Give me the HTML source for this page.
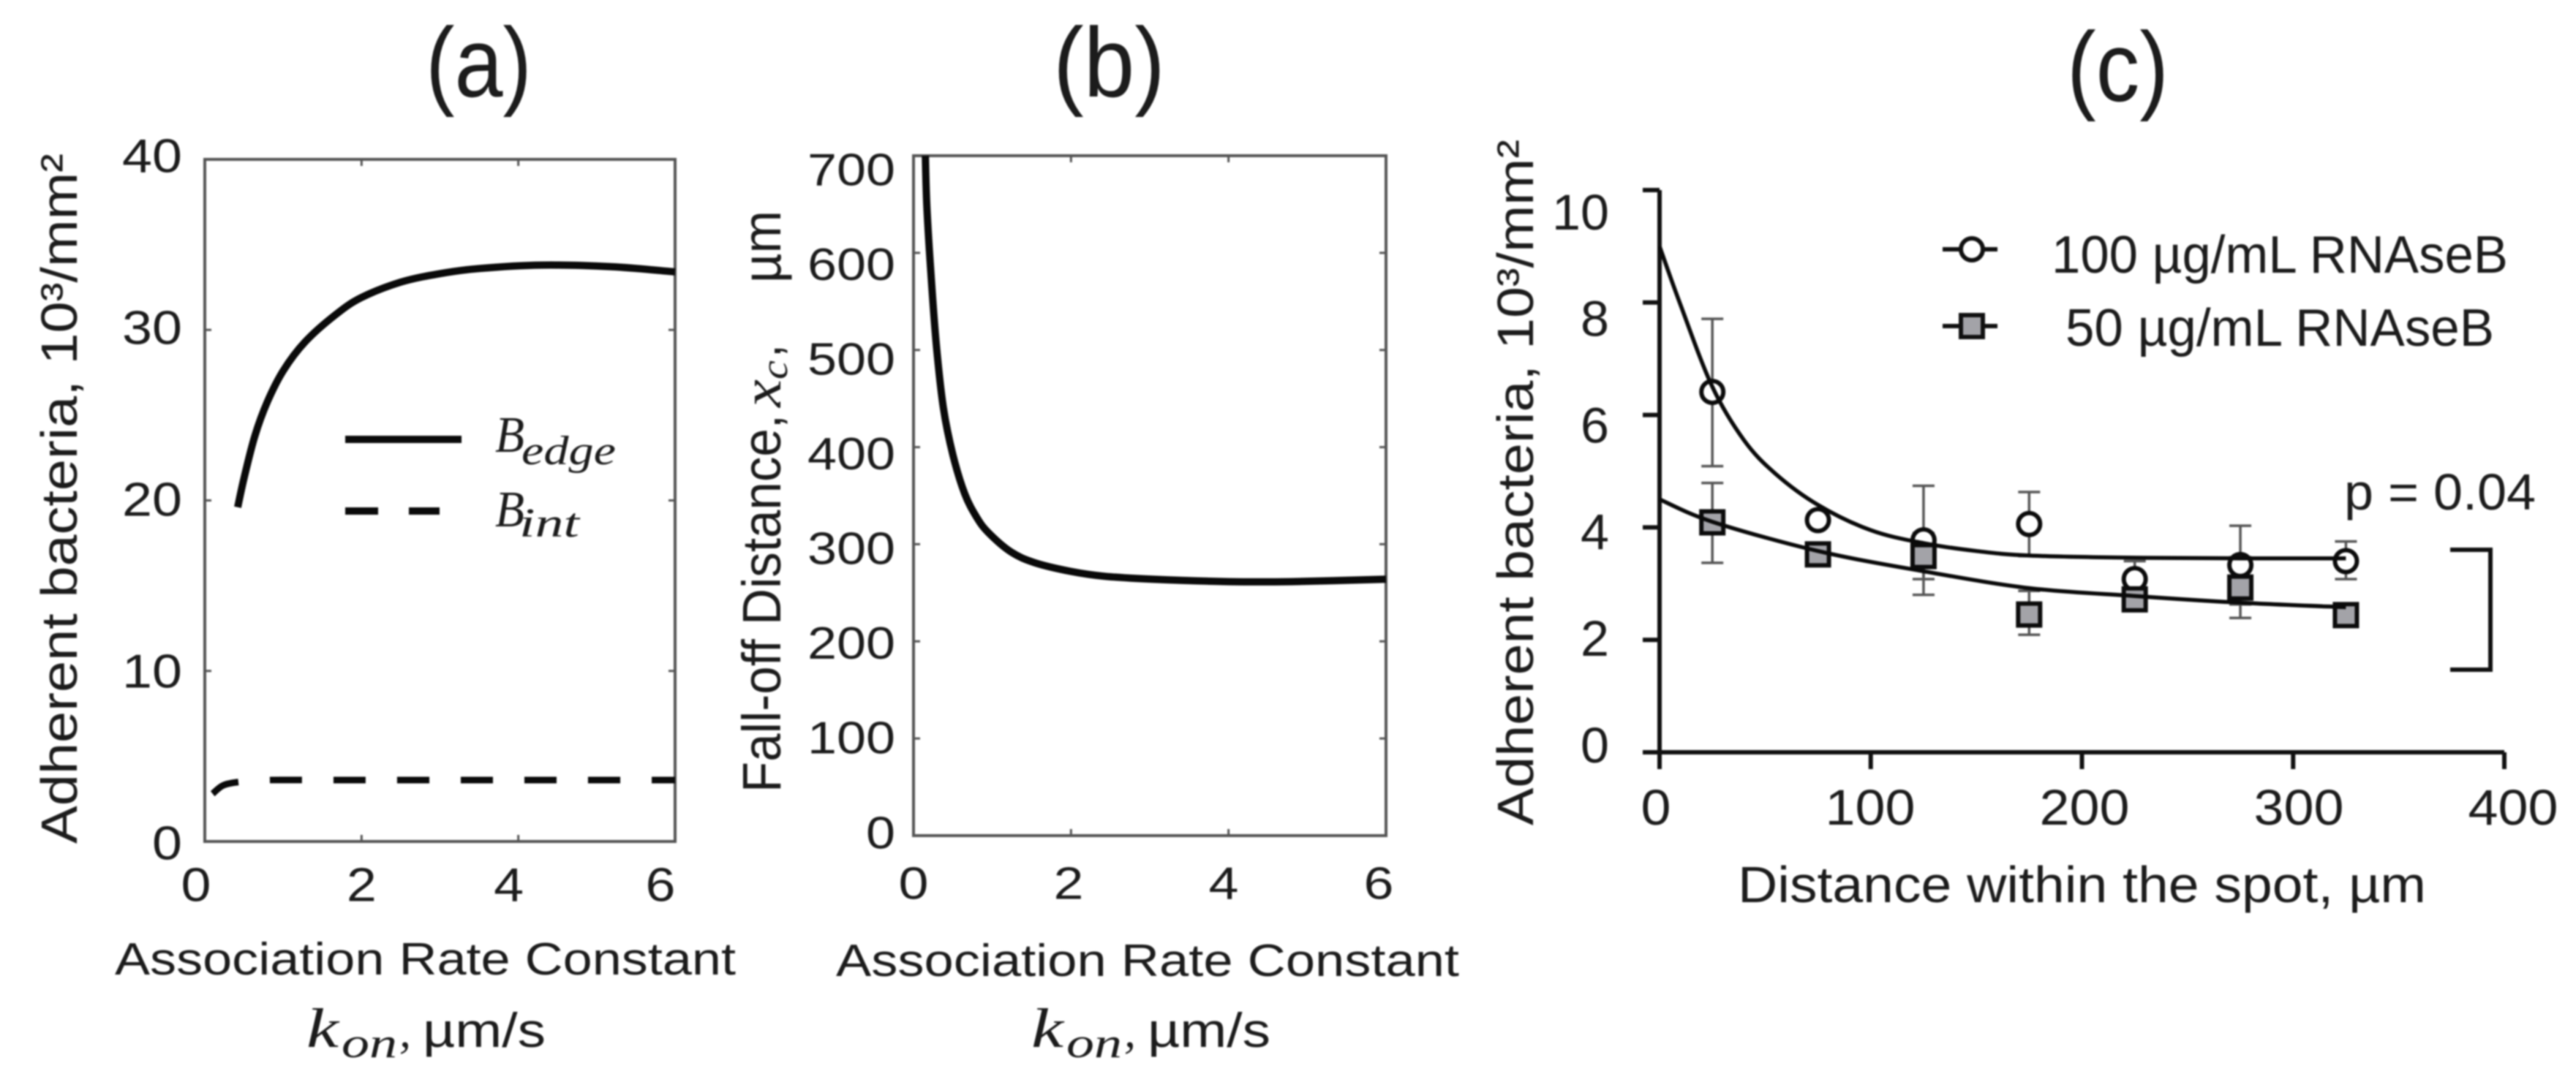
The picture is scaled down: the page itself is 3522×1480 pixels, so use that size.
<!DOCTYPE html>
<html lang="en">
<head>
<meta charset="utf-8">
<title>Adherent bacteria charts</title>
<style>
html,body{margin:0;padding:0;background:#fff;width:3522px;height:1480px;overflow:hidden}
svg{display:block;filter:blur(1px)}
text{font-family:"Liberation Sans",sans-serif;fill:#1c1c1c}
.serif{font-family:"Liberation Serif",serif;font-style:italic}
</style>
</head>
<body>
<svg id="figure" xmlns="http://www.w3.org/2000/svg" width="3522" height="1480" viewBox="0 0 3522 1480">
  <text x="582" y="132" font-size="135" textLength="145" lengthAdjust="spacingAndGlyphs">(a)</text>
  <text x="1440" y="132" font-size="135" textLength="153" lengthAdjust="spacingAndGlyphs">(b)</text>
  <text x="2826" y="138" font-size="135" textLength="139" lengthAdjust="spacingAndGlyphs">(c)</text>

  <text transform="translate(105,1154) rotate(-90)" font-size="70" textLength="944" lengthAdjust="spacingAndGlyphs">Adherent  bacteria, 10³/mm²</text>
  <text x="157" y="1333" font-size="62" textLength="849" lengthAdjust="spacingAndGlyphs">Association Rate Constant</text>
  <g>
    <text class="serif" x="419" y="1432" font-size="76" textLength="44" lengthAdjust="spacingAndGlyphs">k</text>
    <text class="serif" x="467" y="1446" font-size="58" textLength="76" lengthAdjust="spacingAndGlyphs">on</text>
    <text class="serif" x="546" y="1432" font-size="64">,</text>
    <text x="578" y="1432" font-size="66" textLength="168" lengthAdjust="spacingAndGlyphs">µm/s</text>
  </g>
  <g>
    <text class="serif" x="677" y="618" font-size="70" textLength="40" lengthAdjust="spacingAndGlyphs">B</text>
    <text class="serif" x="713" y="635" font-size="56" textLength="129" lengthAdjust="spacingAndGlyphs">edge</text>
  </g>
  <g>
    <text class="serif" x="677" y="720" font-size="70" textLength="40" lengthAdjust="spacingAndGlyphs">B</text>
    <text class="serif" x="710" y="734" font-size="56" textLength="82" lengthAdjust="spacingAndGlyphs">int</text>
  </g>

  <g>
    <text transform="translate(1067,1084) rotate(-90)" font-size="74" textLength="517" lengthAdjust="spacingAndGlyphs">Fall-off Distance,</text>
    <text class="serif" transform="translate(1067,557) rotate(-90)" font-size="76" textLength="38" lengthAdjust="spacingAndGlyphs">x</text>
    <text class="serif" transform="translate(1076,519) rotate(-90)" font-size="52" textLength="26" lengthAdjust="spacingAndGlyphs">c</text>
    <text transform="translate(1067,489) rotate(-90)" font-size="74" textLength="18" lengthAdjust="spacingAndGlyphs">,</text>
    <text transform="translate(1067,387) rotate(-90)" font-size="74" textLength="99" lengthAdjust="spacingAndGlyphs">µm</text>
  </g>
  <text x="1143" y="1335" font-size="62" textLength="852" lengthAdjust="spacingAndGlyphs">Association Rate Constant</text>
  <g>
    <text class="serif" x="1410" y="1432" font-size="76" textLength="44" lengthAdjust="spacingAndGlyphs">k</text>
    <text class="serif" x="1458" y="1446" font-size="58" textLength="76" lengthAdjust="spacingAndGlyphs">on</text>
    <text class="serif" x="1537" y="1432" font-size="64">,</text>
    <text x="1569" y="1432" font-size="66" textLength="168" lengthAdjust="spacingAndGlyphs">µm/s</text>
  </g>

  <text transform="translate(2096,1129) rotate(-90)" font-size="70" textLength="938" lengthAdjust="spacingAndGlyphs">Adherent  bacteria, 10³/mm²</text>
  <text x="2376" y="1234" font-size="70" textLength="941" lengthAdjust="spacingAndGlyphs">Distance within the spot, µm</text>
  <text x="2805" y="373" font-size="72" textLength="624" lengthAdjust="spacingAndGlyphs">100 µg/mL RNAseB</text>
  <text x="2824" y="473" font-size="72" textLength="586" lengthAdjust="spacingAndGlyphs">50 µg/mL RNAseB</text>
  <text x="3205" y="697" font-size="70" textLength="262" lengthAdjust="spacingAndGlyphs">p = 0.04</text>
  <path d="M3350 752H3405V916H3350" fill="none" stroke="#111" stroke-width="6"/>
</svg>
<script>
// Panel (a)
const konEdge = [0.42,0.5,0.64,0.8,1,1.28,1.67,2,2.5,3,3.5,4.3,5.2,6];
const bEdge = [19.6,21.3,23.8,25.8,27.6,29.3,30.9,31.9,32.8,33.3,33.6,33.8,33.7,33.4];
const konInt = [0.1,0.24,0.46,0.8,1.5,3,4.5,6];
const bInt = [2.8,3.3,3.5,3.6,3.6,3.6,3.6,3.6];
const ticksAY = [0,10,20,30,40];
const ticksX = [0,2,4,6];
const labelsAY = ['0','10','20','30','40'];
const labelsX = ['0','2','4','6'];
// Panel (b)
const konFall = [0.15,0.17,0.22,0.29,0.38,0.5,0.65,0.8,0.95,1.24,1.54,2,2.43,3.03,4,4.8,6];
const xcFall = [700,647,580,505,440,392,352,328,312,292,281,272,267,264,261.5,261.5,264];
const ticksBY = [0,100,200,300,400,500,600,700];
const labelsBY = ['0','100','200','300','400','500','600','700'];
// Panel (c)
const spotDist = [25,75,125,175,225,275,325];
const mean100 = [6.41,4.13,3.77,4.06,3.08,3.33,3.4];
const errHi100 = [7.71,4.13,4.74,4.63,3.4,4.03,3.75];
const errLo100 = [5.09,4.13,2.8,3.49,2.76,2.63,3.08];
const mean50 = [4.09,3.52,3.49,2.45,2.72,2.93,2.44];
const errHi50 = [4.79,3.52,3.9,2.87,2.85,3.47,2.44];
const errLo50 = [3.37,3.52,3.08,2.09,2.6,2.39,2.44];
const fitX100 = [0,10,25,40,55,75,100,125,150,175,225,275,325];
const fitY100 = [9,7.95,6.5,5.55,4.95,4.4,3.95,3.72,3.58,3.5,3.46,3.45,3.45];
const fitX50 = [0,25,75,125,175,225,275,325];
const fitY50 = [4.5,4.1,3.58,3.22,2.92,2.78,2.66,2.58];
const ticksCY = [0,2,4,6,8,10];
const ticksCX = [0,100,200,300,400];
const labelsCY = ['0','2','4','6','8','10'];
const labelsCX = ['0','100','200','300','400'];

const svg = document.getElementById('figure');
const NS = 'http://www.w3.org/2000/svg';
function mk(tag, attrs, parent){
  const el = document.createElementNS(NS, tag);
  for (const k in attrs) el.setAttribute(k, attrs[k]);
  (parent || svg).appendChild(el);
  return el;
}
function linear(d0,d1,r0,r1){ return v => r0 + (v-d0)*(r1-r0)/(d1-d0); }
function smooth(xs, ys, fx, fy){
  const p = xs.map((x,i)=>[fx(x),fy(ys[i])]);
  let d = 'M'+p[0][0].toFixed(1)+' '+p[0][1].toFixed(1);
  for (let i=0;i<p.length-1;i++){
    const a=p[Math.max(i-1,0)], b=p[i], c=p[i+1], e=p[Math.min(i+2,p.length-1)];
    d += 'C'+(b[0]+(c[0]-a[0])/6).toFixed(1)+' '+(b[1]+(c[1]-a[1])/6).toFixed(1)+' '+
         (c[0]-(e[0]-b[0])/6).toFixed(1)+' '+(c[1]-(e[1]-b[1])/6).toFixed(1)+' '+
         c[0].toFixed(1)+' '+c[1].toFixed(1);
  }
  return d;
}
function tickLabel(txt, x, y, fs, cw, anchorRight){
  const w = cw*txt.length;
  const el = mk('text',{x:(anchorRight?x-w:x-w/2),y:y+fs*0.36,'font-size':fs,textLength:w,lengthAdjust:'spacingAndGlyphs'});
  el.textContent = txt;
  return el;
}

/* ---------- Panel a ---------- */
const xa = linear(0,6,280,923), ya = linear(0,40,1151,218);
const yaLab = linear(0,40,1152,212);
function xaLab(t){ return t === 2 ? xa(t) : t === 0 ? xa(t) - 12 : t === 4 ? xa(t) - 13 : xa(t) - 20; }
const frameA = mk('rect',{x:280,y:218,width:643,height:933,fill:'none',stroke:'#555',"stroke-width":4});


ticksX.forEach((t,i)=>{
  const tk = mk('path',{d:`M${xa(t)} 1151v-9M${xa(t)} 218v9`,stroke:'#555','stroke-width':3});
  
  
  const lb = tickLabel(labelsX[i],xaLab(t),1209,65,41,false);
  
  
});
ticksAY.forEach((t,i)=>{
  const tk = mk('path',{d:`M280 ${ya(t)}h9M923 ${ya(t)}h-9`,stroke:'#555','stroke-width':3});
  
  
  const lb = tickLabel(labelsAY[i],249,yaLab(t),65,41,true);
  
  
});
const lineEdge = mk('path',{d:smooth(konEdge,bEdge,xa,ya),fill:'none',stroke:'#0a0a0a','stroke-width':10});


const lineInt = mk('path',{d:smooth(konInt,bInt,xa,ya),fill:'none',stroke:'#0a0a0a','stroke-width':9,'stroke-dasharray':'44 43','stroke-dashoffset':4});


const legSolid = mk('path',{d:'M472 601H631',stroke:'#0a0a0a','stroke-width':10});


const legDash = mk('path',{d:'M472 699H517M559 699H601',stroke:'#0a0a0a','stroke-width':10});



/* ---------- Panel b ---------- */
const xb = linear(0,6,1249,1895), yb = linear(0,700,1143,213);
const xbLab = linear(0,6,1249,1885), ybLab = linear(0,700,1138,231);
const frameB = mk('rect',{x:1249,y:213,width:646,height:930,fill:'none',stroke:'#555',"stroke-width":4});


ticksX.forEach((t,i)=>{
  const tk = mk('path',{d:`M${xb(t)} 1143v-9M${xb(t)} 213v9`,stroke:'#555','stroke-width':3});
  
  
  const lb = tickLabel(labelsX[i],xbLab(t),1207,62,41,false);
  
  
});
ticksBY.forEach((t,i)=>{
  const tk = mk('path',{d:`M1249 ${yb(t)}h9M1895 ${yb(t)}h-9`,stroke:'#555','stroke-width':3});
  
  
  const lb = tickLabel(labelsBY[i],1224,ybLab(t),62,40,true);
  
  
});
const lineFall = mk('path',{d:smooth(konFall,xcFall,xb,yb),fill:'none',stroke:'#0a0a0a','stroke-width':10});



/* ---------- Panel c ---------- */
const xc = linear(0,400,2269,3424), yc = linear(0,10,1029,260);
const xcLab = linear(0,400,2264,3436), ycLab = linear(0,10,1018,289);
const axC = mk('path',{d:'M2269 260V1052M2246 1029H3424M3424 1029V1052',fill:'none',stroke:'#111','stroke-width':6});


ticksCX.forEach((t,i)=>{
  const tk = mk('path',{d:`M${xc(t)} 1029v23`,stroke:'#111','stroke-width':6});
  
  
  const lb = tickLabel(labelsCX[i],xcLab(t),1103,69,41,false);
  
  
});
ticksCY.forEach((t,i)=>{
  const tk = mk('path',{d:`M2269 ${yc(t)}h-23`,stroke:'#111','stroke-width':6});
  
  
  const lb = tickLabel(labelsCY[i],2200,ycLab(t),69,39,true);
  
  
});
function errBar(x,hi,lo){
  return `M${xc(x)} ${yc(hi)}V${yc(lo)}M${xc(x)-15} ${yc(hi)}h30M${xc(x)-15} ${yc(lo)}h30`;
}
spotDist.forEach((x,i)=>{
  if (errHi50[i]!==errLo50[i]){
    const e = mk('path',{d:errBar(x,errHi50[i],errLo50[i]),fill:'none',stroke:'#555','stroke-width':3.5});
    
    
  }
  if (errHi100[i]!==errLo100[i]){
    const e = mk('path',{d:errBar(x,errHi100[i],errLo100[i]),fill:'none',stroke:'#555','stroke-width':3.5});
    
    
  }
});
spotDist.forEach((x,i)=>{
  const c = mk('circle',{cx:xc(x),cy:yc(mean100[i]),r:15,fill:'#fff',stroke:'#0c0c0c','stroke-width':6});
  
  
});
spotDist.forEach((x,i)=>{
  const s = mk('rect',{x:xc(x)-15,y:yc(mean50[i])-15,width:30,height:30,fill:'#a3a3a8',stroke:'#0c0c0c','stroke-width':6});
  
  
});
const fit100 = mk('path',{d:smooth(fitX100,fitY100,xc,yc),fill:'none',stroke:'#0a0a0a','stroke-width':5.5});


const fit50 = mk('path',{d:smooth(fitX50,fitY50,xc,yc),fill:'none',stroke:'#0a0a0a','stroke-width':5.5});


const leg1 = mk('path',{d:'M2656 341H2731',stroke:'#111','stroke-width':6});


const leg1m = mk('circle',{cx:2696,cy:341,r:15,fill:'#fff',stroke:'#111','stroke-width':6});


const leg2 = mk('path',{d:'M2656 446H2731',stroke:'#111','stroke-width':6});


const leg2m = mk('rect',{x:2681,y:431,width:30,height:30,fill:'#a3a3a8',stroke:'#111','stroke-width':6});


</script>
</body>
</html>
